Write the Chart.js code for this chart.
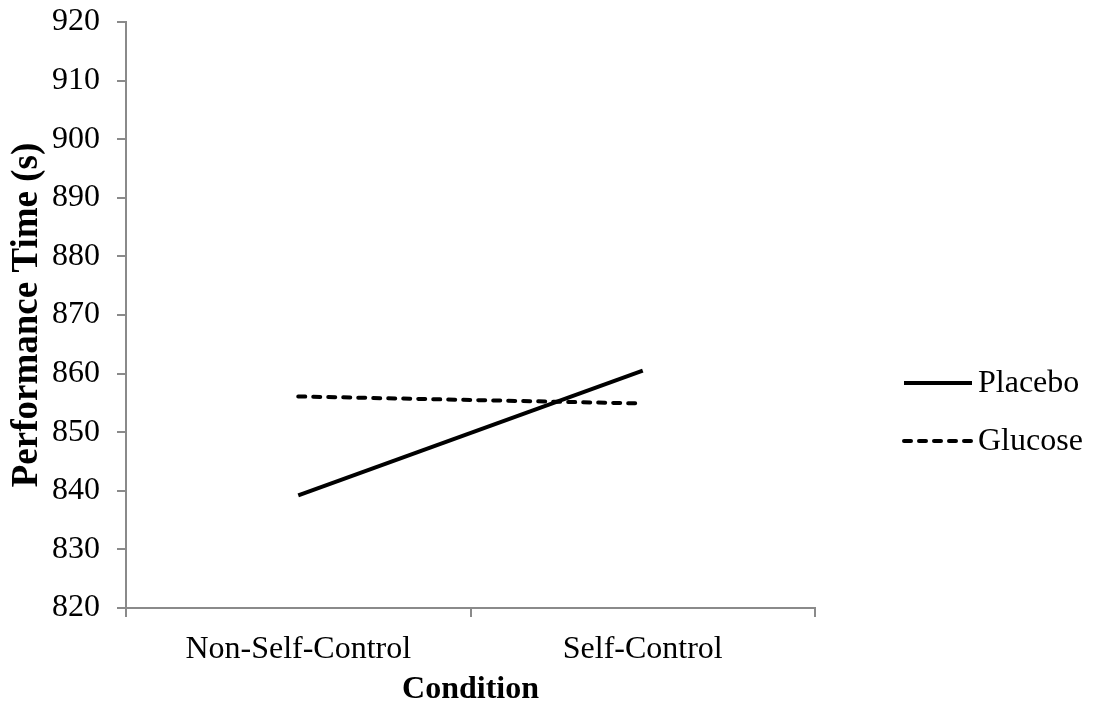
<!DOCTYPE html>
<html>
<head>
<meta charset="utf-8">
<script src="https://cdn.jsdelivr.net/npm/chart.js@4/dist/chart.umd.min.js"></script>
<style>
  html, body { margin: 0; padding: 0; background: #fff; }
  #wrap { width: 1094px; height: 709px; }
</style>
</head>
<body>
<div id="wrap"><canvas id="perfChart"></canvas></div>
<script>
// data
const conditions = ["Non-Self-Control", "Self-Control"];
const placebo = [839.2, 860.5];
const glucose = [856.1, 854.9];
const yTicks = [820, 830, 840, 850, 860, 870, 880, 890, 900, 910, 920];

const axisGray = '#8a8a8a';
const serif = "'Liberation Serif', 'Times New Roman', serif";

// legend drawn on the right, like the original figure
const sideLegend = {
    id: 'sideLegend',
    afterDraw(chart) {
        const ctx = chart.ctx;
        const rows = [383, 441];
        ctx.save();
        chart.data.datasets.forEach((ds, i) => {
            const y = rows[i];
            ctx.beginPath();
            ctx.lineWidth = ds.borderWidth;
            ctx.strokeStyle = ds.borderColor;
            ctx.lineCap = ds.borderCapStyle || 'butt';
            ctx.setLineDash(ds.borderDash || []);
            ctx.moveTo(904, y);
            ctx.lineTo(972, y);
            ctx.stroke();
            ctx.setLineDash([]);
            ctx.fillStyle = '#000';
            ctx.font = '32px ' + serif;
            ctx.textBaseline = 'middle';
            ctx.fillText(ds.label, 978, y + 1);
        });
        ctx.restore();
    }
};

new Chart(document.getElementById('perfChart'), {
    type: 'line',
    data: {
        labels: conditions,
        datasets: [
            { label: 'Placebo', data: placebo, borderColor: '#000', borderWidth: 4, pointRadius: 0, fill: false, tension: 0 },
            { label: 'Glucose', data: glucose, borderColor: '#000', borderWidth: 4, borderDash: [7, 8], borderCapStyle: 'round', pointRadius: 0, fill: false, tension: 0 }
        ]
    },
    options: {
        responsive: true,
        maintainAspectRatio: false,
        animation: false,
        layout: { padding: { top: 22, right: 279, left: 0, bottom: 0 } },
        plugins: { legend: { display: false }, tooltip: { enabled: false } },
        scales: {
            x: {
                offset: true,
                grid: { offset: true, drawOnChartArea: false, drawTicks: true, tickLength: 9, color: axisGray, lineWidth: 2 },
                border: { color: axisGray, width: 2 },
                ticks: { color: '#000', font: { family: serif, size: 32 }, padding: 13, maxRotation: 0 },
                title: { display: true, text: 'Condition', color: '#000', font: { family: serif, size: 32, weight: 'bold' }, padding: { top: 0, bottom: 0 } },
                afterFit(scale) { scale.height = 101; }
            },
            y: {
                min: 820,
                max: 920,
                afterBuildTicks(scale) { scale.ticks = yTicks.map(v => ({ value: v })); },
                grid: { drawOnChartArea: false, drawTicks: true, tickLength: 9, color: axisGray, lineWidth: 2 },
                border: { color: axisGray, width: 2 },
                ticks: { color: '#000', font: { family: serif, size: 32 }, padding: 17 },
                title: { display: true, text: 'Performance Time (s)', color: '#000', font: { family: serif, size: 37, weight: 'bold' }, padding: { top: 5, bottom: 0 } },
                afterFit(scale) {
                    scale.width = 126;
                    scale.paddingTop = 0;
                    scale.paddingBottom = 0;
                }
            }
        }
    },
    plugins: [sideLegend]
});
</script>
</body>
</html>
